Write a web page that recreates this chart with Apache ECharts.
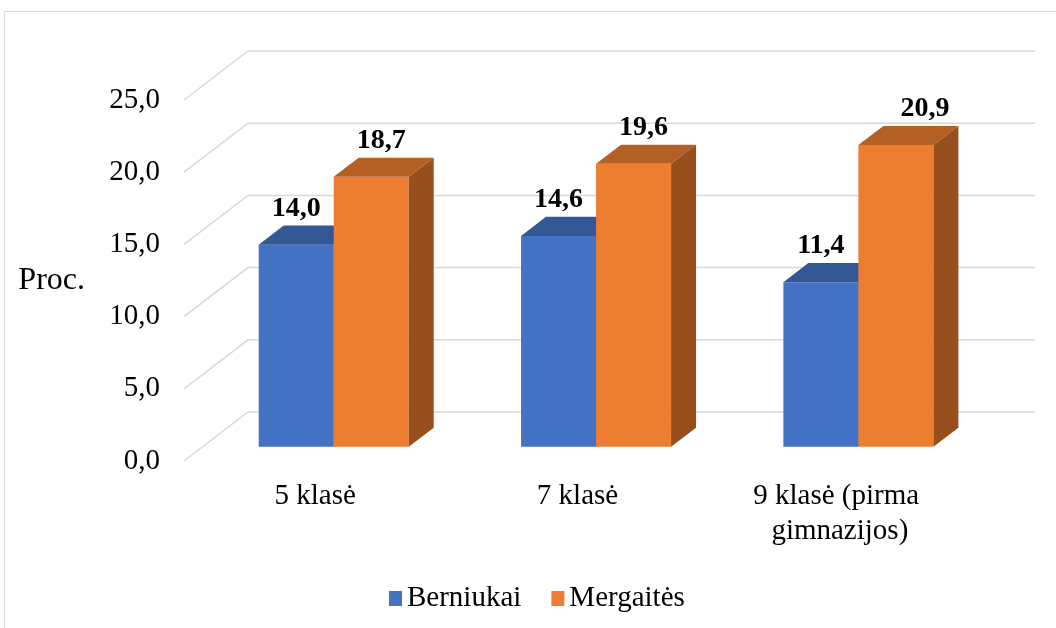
<!DOCTYPE html>
<html>
<head>
<meta charset="utf-8">
<script src="https://cdn.jsdelivr.net/npm/echarts@6/dist/echarts.min.js"></script>
<style>
  html, body { margin: 0; padding: 0; background: #fff; }
  #chart { width: 1056px; height: 628px; }
</style>
</head>
<body>
<div id="chart"></div>
<script>
const categories = ['5 klasė', '7 klasė', '9 klasė (pirma gimnazijos)']
const berniukai = [14.0, 14.6, 11.4]
const mergaites = [18.7, 19.6, 20.9]
const yTicks = [0, 5, 10, 15, 20, 25]

// 3D look: full depth of the box and where the bars sit in it
const DX = 64, DY = 49
const Z0 = 0.29, DZ = 0.39
const BAR_FRAC = 0.286
const FONT = "'Liberation Serif', 'Times New Roman', serif"
// small label shifts to follow the original placement
const labelShift = [[0, 0, 0], [10, 10, 29]]

const chart = echarts.init(document.getElementById('chart'))

const fmt = v => v.toFixed(1).replace('.', ',')

function gridRender (params, api) {
  const v = api.value(1)
  const p = api.coord([0, v])
  const band = api.size([1, 0])[0]
  const xl = p[0] - band / 2
  const xr = xl + band * categories.length + DX
  return {
    type: 'polyline',
    shape: { points: [[xl, p[1]], [xl + DX, p[1] - DY], [xr, p[1] - DY]] },
    style: { stroke: '#d9d9d9', lineWidth: 1.5, fill: null },
    silent: true
  }
}

function barRender (pos, front, top, side) {
  return function (params, api) {
    const idx = api.value(0)
    const v = api.value(1)
    const base = api.coord([idx, 0])
    const tip = api.coord([idx, v])
    const band = api.size([1, 0])[0]
    const w = band * BAR_FRAC
    const x0 = base[0] - w + pos * w + Z0 * DX
    const x1 = x0 + w
    const yb = base[1] - Z0 * DY
    const yt = tip[1] - Z0 * DY
    const ddx = DZ * DX, ddy = -DZ * DY
    return {
      type: 'group',
      children: [
        { type: 'rect', shape: { x: x0, y: yt, width: w, height: yb - yt }, style: { fill: front } },
        { type: 'polygon', shape: { points: [[x0, yt], [x1, yt], [x1 + ddx, yt + ddy], [x0 + ddx, yt + ddy]] }, style: { fill: top } },
        { type: 'polygon', shape: { points: [[x1, yt], [x1 + ddx, yt + ddy], [x1 + ddx, yb + ddy], [x1, yb]] }, style: { fill: side } },
        {
          type: 'text',
          style: {
            x: x0 + w / 2 + labelShift[pos][idx],
            y: yt + ddy - 17,
            text: fmt(v),
            font: 'bold 28px ' + FONT,
            fill: '#000',
            align: 'center',
            verticalAlign: 'middle'
          }
        }
      ]
    }
  }
}

chart.setOption({
  animation: false,
  backgroundColor: '#fff',
  graphic: [{
    type: 'rect',
    shape: { x: 4.5, y: 11.5, width: 1200, height: 800 },
    style: { fill: null, stroke: '#d9d9d9', lineWidth: 1 },
    silent: true
  }],
  grid: { left: 184, right: 85, top: 100, bottom: 167 },
  legend: {
    data: ['Berniukai', 'Mergaitės'],
    left: 384,
    top: 579,
    icon: 'rect',
    itemWidth: 13,
    itemHeight: 15,
    itemGap: 30,
    textStyle: { fontFamily: FONT, fontSize: 29, color: '#000' }
  },
  xAxis: {
    type: 'category',
    data: categories,
    axisLine: { show: false },
    axisTick: { show: false },
    axisLabel: {
      margin: 18,
      fontFamily: FONT,
      fontSize: 29,
      lineHeight: 35,
      color: '#000',
      interval: 0,
      width: 195,
      overflow: 'break'
    }
  },
  yAxis: {
    type: 'value',
    min: 0,
    max: 25,
    interval: 5,
    name: 'Proc.',
    nameLocation: 'middle',
    nameRotate: 0,
    nameGap: 99,
    nameTextStyle: { fontFamily: FONT, fontSize: 32, color: '#000', align: 'right' },
    axisLine: { show: false },
    axisTick: { show: false },
    splitLine: { show: false },
    axisLabel: {
      margin: 24,
      fontFamily: FONT,
      fontSize: 29,
      color: '#000',
      formatter: fmt
    }
  },
  series: [
    {
      type: 'custom',
      silent: true,
      z: 1,
      renderItem: gridRender,
      data: yTicks.map(t => [0, t])
    },
    {
      name: 'Berniukai',
      type: 'custom',
      z: 2,
      itemStyle: { color: '#4472c4' },
      renderItem: barRender(0, '#4472c4', '#335895', '#2f5597'),
      data: berniukai.map((v, i) => [i, v])
    },
    {
      name: 'Mergaitės',
      type: 'custom',
      z: 3,
      itemStyle: { color: '#ed7d31' },
      renderItem: barRender(1, '#ed7d31', '#b45f24', '#964f1d'),
      data: mergaites.map((v, i) => [i, v])
    }
  ]
})
</script>
</body>
</html>
